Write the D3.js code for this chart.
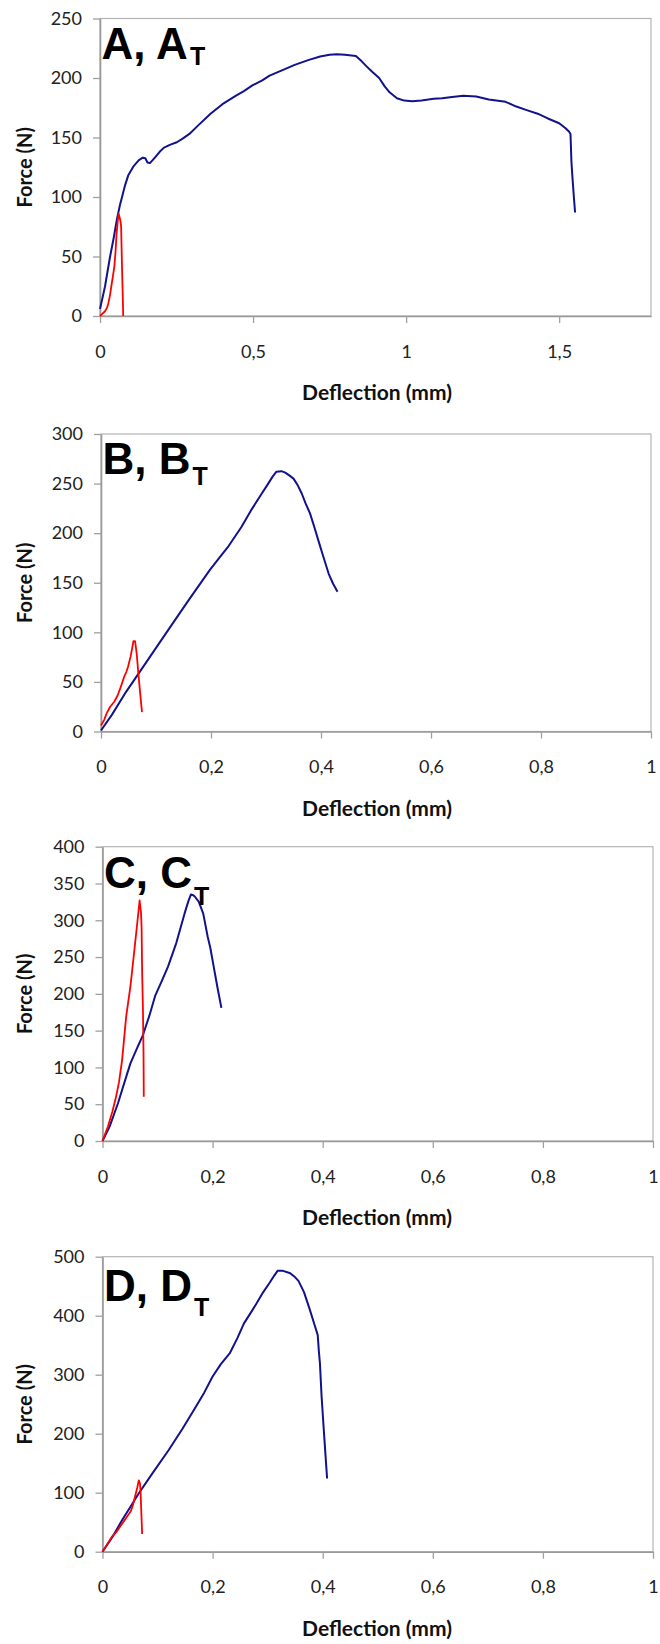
<!DOCTYPE html>
<html><head><meta charset="utf-8">
<script src="https://cdn.jsdelivr.net/npm/d3@7"></script>
<style>body{margin:0;background:#fff}</style>
</head><body>
<svg id="c" width="660" height="1644"></svg>
<script>
// ---------- data (deflection mm, force N) ----------
const blueA = [[0,6],[0.008,15],[0.0165,25],[0.025,38],[0.033,50],[0.045,66],[0.055,81],[0.065,93],[0.072,100],[0.082,110],[0.092,118],[0.11,126],[0.127,131],[0.14,133],[0.148,132.5],[0.155,129],[0.163,128.5],[0.172,131],[0.182,134],[0.195,138],[0.209,141.5],[0.23,144],[0.251,146],[0.27,149],[0.292,153],[0.32,160],[0.361,170],[0.40,178],[0.443,185],[0.47,189],[0.499,194],[0.53,198],[0.554,202],[0.6,207],[0.636,211],[0.68,215],[0.719,218],[0.75,219.5],[0.774,220],[0.80,219.5],[0.836,218.5],[0.855,214],[0.87,210],[0.89,205],[0.912,200],[0.93,193],[0.946,188],[0.97,183],[0.994,181],[1.02,180.5],[1.05,181],[1.09,182.5],[1.118,183],[1.15,184],[1.187,185],[1.229,184.5],[1.27,182],[1.325,180],[1.36,176],[1.394,173],[1.43,170],[1.463,166],[1.5,162],[1.52,158],[1.532,155],[1.537,153],[1.54,130],[1.543,118],[1.548,100],[1.552,87]];
const redA = [[0,0],[0.008,2],[0.0165,4],[0.023,7],[0.0275,11],[0.033,18],[0.037,25],[0.042,33],[0.047,42],[0.051,55],[0.054,69],[0.058,80],[0.061,86],[0.064,83],[0.0675,79],[0.069,75],[0.072,40],[0.0745,15],[0.0758,0]];
const blueB = [[0,1],[0.02,17],[0.0456,40],[0.08,68],[0.1217,102],[0.16,133],[0.198,163],[0.215,175],[0.232,187],[0.255,206],[0.274,224],[0.29,238],[0.304,250],[0.312,257],[0.319,262],[0.328,262.5],[0.335,261],[0.343,258],[0.35,255],[0.358,248],[0.365,240],[0.372,230],[0.38,220],[0.388,206],[0.395,193],[0.405,175],[0.414,159],[0.422,149],[0.43,141]];
const redB = [[0,6],[0.006,12],[0.01,18],[0.0167,25],[0.024,30],[0.03,36],[0.036,45],[0.042,55],[0.046,60],[0.049,65],[0.054,76],[0.059,91],[0.062,91],[0.065,78],[0.068,58],[0.071,40],[0.0745,19.5]];
const blueC = [[0,0],[0.0129,19.5],[0.028,51],[0.04,80],[0.0507,105.5],[0.062,125],[0.0735,144],[0.085,170],[0.096,198],[0.108,218],[0.119,237],[0.134,269],[0.149,309],[0.156,326],[0.1606,335],[0.165,334],[0.168,332],[0.175,325],[0.183,309],[0.191,278],[0.196,262],[0.202,237],[0.209,208],[0.216,181]];
const redC = [[0,0],[0.01,20],[0.018,40],[0.024,58],[0.03,80],[0.0356,110],[0.043,169],[0.0507,210],[0.058,260],[0.063,295],[0.0674,327],[0.07,310],[0.071,290],[0.072,230],[0.0735,178],[0.0745,120],[0.075,60]];
const blueD = [[0,0],[0.018,25],[0.036,54],[0.05,75],[0.066,99],[0.09,132],[0.12,172],[0.145,208],[0.166,240],[0.185,270],[0.2,297],[0.215,318],[0.231,336],[0.245,362],[0.257,387],[0.27,406],[0.28,421],[0.292,440],[0.303,455],[0.312,468],[0.318,476],[0.328,476],[0.341,472],[0.35,465],[0.356,459],[0.366,440],[0.376,412],[0.385,385],[0.391,367],[0.393,340],[0.395,319],[0.398,263],[0.402,206],[0.405,165],[0.408,124]];
const redD = [[0,0],[0.008,12],[0.0168,25],[0.025,33],[0.036,48],[0.045,60],[0.051,68],[0.055,78],[0.059,93],[0.063,108],[0.066,121],[0.068,116],[0.069,105],[0.07,80],[0.071,55],[0.072,30]];

const panelNames = ["A","B","C","D"];
const xMaxes = [1.8, 1, 1, 1];
const yMaxes = [250, 300, 400, 500];
const xTicksA = [0, 0.5, 1, 1.5];
const xTicksBCD = [0, 0.2, 0.4, 0.6, 0.8, 1];
const yTicksA = [0, 50, 100, 150, 200, 250];
const yTicksB = [0, 50, 100, 150, 200, 250, 300];
const yTicksC = [0, 50, 100, 150, 200, 250, 300, 350, 400];
const yTicksD = [0, 100, 200, 300, 400, 500];
const xTitle = "Deflection (mm)";
const yTitle = "Force (N)";

const series = [[blueA, redA],[blueB, redB],[blueC, redC],[blueD, redD]];
const xTickSets = [xTicksA, xTicksBCD, xTicksBCD, xTicksBCD];
const yTickSets = [yTicksA, yTicksB, yTicksC, yTicksD];

// ---------- layout ----------
const boxes = [
  {l:100, r:651, t:18.5, b:316, lb:40, tb:46.5},
  {l:101, r:651, t:434, b:731.5, lb:40, tb:51},
  {l:102.5, r:653, t:846.7, b:1141, lb:41, tb:58},
  {l:102.5, r:653, t:1256.7, b:1551.7, lb:44, tb:59}
];

const svg = d3.select("#c");
const fmt = v => String(v).replace(".", ",");
const FONT = "Lato, 'Open Sans', sans-serif";

panelNames.forEach((name, i) => {
  const bx = boxes[i];
  const x = d3.scaleLinear().domain([0, xMaxes[i]]).range([bx.l, bx.r]);
  const y = d3.scaleLinear().domain([0, yMaxes[i]]).range([bx.b, bx.t]);
  const g = svg.append("g");

  // frame (top/right)
  g.append("rect").attr("x", bx.l).attr("y", bx.t).attr("width", bx.r - bx.l).attr("height", bx.b - bx.t)
    .attr("fill", "none").attr("stroke", "#b4b4b4").attr("stroke-width", 1.2);

  const yAx = g.append("g").attr("transform", `translate(${bx.l},0)`)
    .call(d3.axisLeft(y).tickValues(yTickSets[i]).tickFormat(fmt).tickSize(7).tickSizeOuter(0).tickPadding(11));
  const xAx = g.append("g").attr("transform", `translate(0,${bx.b})`)
    .call(d3.axisBottom(x).tickValues(xTickSets[i]).tickFormat(fmt).tickSize(7).tickSizeOuter(0).tickPadding(22));
  [yAx, xAx].forEach(ax => {
    ax.select(".domain").attr("stroke", "#999").attr("stroke-width", 1.6);
    ax.selectAll(".tick line").attr("stroke", "#a0a0a0").attr("stroke-width", 1.3);
    ax.selectAll(".tick text").attr("fill", "#222").style("font-family", FONT).style("font-size", "18px");
  });

  const line = d3.line().x(d => x(d[0])).y(d => y(d[1]));
  const [blue, red] = series[i];
  g.append("path").datum(blue).attr("d", line).attr("fill", "none")
    .attr("stroke", "#12128c").attr("stroke-width", 2).attr("stroke-linejoin", "round");
  g.append("path").datum(red).attr("d", line).attr("fill", "none")
    .attr("stroke", "#ff0000").attr("stroke-width", 1.8).attr("stroke-linejoin", "round");

  // axis titles
  g.append("text").attr("x", 377).attr("y", bx.b + 77).attr("dy", "0.35em").attr("text-anchor", "middle")
    .style("font-family", FONT).style("font-weight", "bold").style("font-size", "21px").attr("fill", "#111").text(xTitle);
  g.append("text").attr("transform", `translate(25,${(bx.t + bx.b) / 2}) rotate(-90)`).attr("dy", "0.35em")
    .attr("text-anchor", "middle").style("font-family", FONT).style("font-weight", "bold").style("font-size", "20px")
    .attr("fill", "#111").text(yTitle);

  // panel label
  const main = g.append("text").attr("x", bx.l + 1.5).attr("y", bx.t + bx.lb)
    .style("font-family", "'Liberation Sans', Arial, sans-serif").style("font-weight", "bold").style("font-size", "44px")
    .attr("fill", "#000").text(`${name}, ${name}`);
  const w = main.node().getComputedTextLength();
  g.append("text").attr("x", bx.l + 1.5 + w + 2).attr("y", bx.t + bx.tb)
    .style("font-family", "'Liberation Sans', Arial, sans-serif").style("font-weight", "bold").style("font-size", "25px")
    .attr("fill", "#000").text("T");
});
</script>
</body></html>
